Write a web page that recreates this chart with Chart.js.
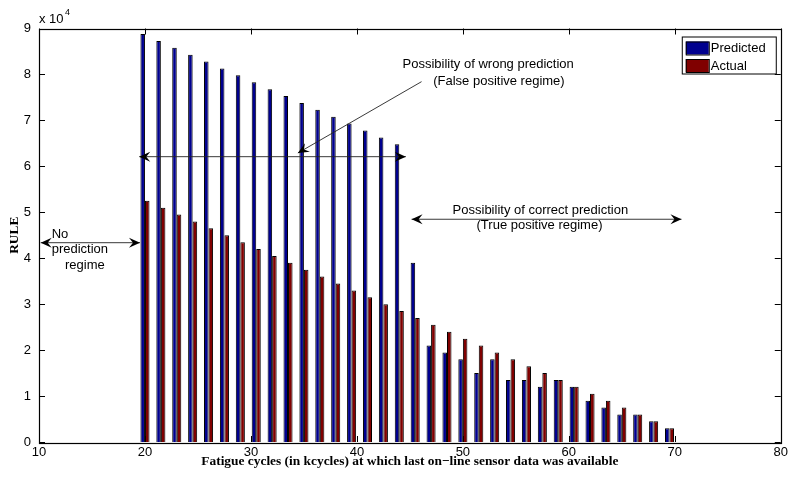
<!DOCTYPE html>
<html>
<head>
<meta charset="utf-8">
<script src="https://cdn.jsdelivr.net/npm/chart.js@4/dist/chart.umd.min.js"></script>
<style>
  html, body { margin: 0; padding: 0; background: #ffffff; }
  #wrap { width: 791px; height: 477px; }
</style>
</head>
<body>
<div id="wrap"><canvas id="c" width="791" height="477"></canvas></div>
<script>
// Fatigue cycles (kcycles) at which the last on-line sensor reading was taken
const cycles = [20, 21.5, 23, 24.5, 26, 27.5, 29, 30.5, 32, 33.5, 35, 36.5, 38, 39.5, 41, 42.5, 44,
                45.5, 47, 48.5, 50, 51.5, 53, 54.5, 56, 57.5, 59, 60.5, 62, 63.5, 65, 66.5, 68, 69.5];

// Predicted remaining useful life
const predicted = [88800, 87300, 85800, 84300, 82800, 81300, 79800, 78300, 76800, 75300, 73800, 72300,
                   70800, 69300, 67800, 66300, 64800, 39000, 21000, 19500, 18000, 15000, 18000, 13500,
                   13500, 12000, 13500, 12000, 9000, 7500, 6000, 6000, 4500, 3000];

// Actual remaining useful life
const actual = [52500, 51000, 49500, 48000, 46500, 45000, 43500, 42000, 40500, 39000, 37500, 36000,
                34500, 33000, 31500, 30000, 28500, 27000, 25500, 24000, 22500, 21000, 19500, 18000,
                16500, 15000, 13500, 12000, 10500, 9000, 7500, 6000, 4500, 3000];

const seriesNames = ['Predicted', 'Actual'];
const xTicks = [10, 20, 30, 40, 50, 60, 70, 80];
const yTicks = [0, 10000, 20000, 30000, 40000, 50000, 60000, 70000, 80000, 90000];

const SANS = '"Liberation Sans", Arial, Helvetica, sans-serif';
const SERIF = '"Liberation Serif", "Times New Roman", serif';
const TXT = 13;

function arrowHead(ctx, tx, ty, ang) {
  const L = 11, W = 5, N = 7;
  ctx.save();
  ctx.translate(tx, ty);
  ctx.rotate(ang);
  ctx.beginPath();
  ctx.moveTo(0, 0);
  ctx.lineTo(-L, -W);
  ctx.lineTo(-N, 0);
  ctx.lineTo(-L, W);
  ctx.closePath();
  ctx.fill();
  ctx.restore();
}

function arrow(ctx, x1, y1, x2, y2, both) {
  ctx.beginPath();
  ctx.moveTo(x1, y1);
  ctx.lineTo(x2, y2);
  ctx.stroke();
  const ang = Math.atan2(y2 - y1, x2 - x1);
  arrowHead(ctx, x2, y2, ang);
  if (both) arrowHead(ctx, x1, y1, ang + Math.PI);
}

// Regime annotations, in data units
const arrows = [
  { x1: 19.46, y1: 62100, x2: 44.62, y2: 62100, both: true },
  { x1: 45.16, y1: 48480, x2: 70.63, y2: 48480, both: true },
  { x1: 10.16, y1: 43380, x2: 19.53, y2: 43380, both: true },
  { x1: 46.1,  y1: 78430, x2: 34.43, y2: 62900, both: false }
];
const notes = [
  { x: 44.31, y: 82220, text: 'Possibility of wrong prediction' },
  { x: 47.2,  y: 78430, text: '(False positive regime)' },
  { x: 49.03, y: 50500, text: 'Possibility of correct prediction' },
  { x: 51.29, y: 47240, text: '(True positive regime)' },
  { x: 11.2,  y: 45170, text: 'No' },
  { x: 11.2,  y: 41950, text: 'prediction' },
  { x: 12.45, y: 38530, text: 'regime' }
];

const axesDecor = {
  id: 'axesDecor',
  beforeDatasetsDraw(chart) {
    const { ctx, chartArea: a, scales: { x, y } } = chart;
    ctx.save();
    ctx.strokeStyle = '#000';
    ctx.lineWidth = 1;
    ctx.beginPath();
    xTicks.forEach(v => {
      const px = Math.round(x.getPixelForValue(v)) + 0.5;
      ctx.moveTo(px, a.bottom); ctx.lineTo(px, a.bottom - 6);
      ctx.moveTo(px, a.top); ctx.lineTo(px, a.top + 6);
    });
    yTicks.forEach(v => {
      const py = Math.round(y.getPixelForValue(v)) + 0.5;
      ctx.moveTo(a.left, py); ctx.lineTo(a.left + 6, py);
      ctx.moveTo(a.right, py); ctx.lineTo(a.right - 6, py);
    });
    ctx.stroke();
    ctx.restore();
  },
  afterDatasetsDraw(chart) {
    const { ctx, chartArea: a, scales: { x, y } } = chart;
    ctx.save();

    // axes box
    ctx.strokeStyle = '#000';
    ctx.lineWidth = 1.2;
    ctx.strokeRect(Math.round(a.left) + 0.5, Math.round(a.top) + 0.5,
                   Math.round(a.right - a.left), Math.round(a.bottom - a.top));

    // exponent label
    ctx.fillStyle = '#000';
    ctx.textBaseline = 'middle';
    ctx.textAlign = 'left';
    ctx.font = TXT + 'px ' + SANS;
    ctx.fillText('x 10', a.left, 19);
    const w = ctx.measureText('x 10').width;
    ctx.font = '9px ' + SANS;
    ctx.fillText('4', a.left + w + 1.5, 13);

    // arrows
    ctx.strokeStyle = '#222';
    ctx.fillStyle = '#000';
    ctx.lineWidth = 0.9;
    arrows.forEach(r => arrow(ctx,
      x.getPixelForValue(r.x1), y.getPixelForValue(r.y1),
      x.getPixelForValue(r.x2), y.getPixelForValue(r.y2), r.both));

    // annotation text
    ctx.fillStyle = '#000';
    ctx.font = TXT + 'px ' + SANS;
    ctx.textAlign = 'left';
    ctx.textBaseline = 'middle';
    notes.forEach(n => ctx.fillText(n.text, x.getPixelForValue(n.x), y.getPixelForValue(n.y)));

    // legend
    const lx = a.right - 99, ly = a.top + 8, lw = 94, lh = 37;
    ctx.fillStyle = '#fff';
    ctx.fillRect(lx, ly, lw, lh);
    ctx.strokeStyle = '#000';
    ctx.lineWidth = 1;
    ctx.strokeRect(lx + 0.5, ly + 0.5, lw, lh);
    chart.data.datasets.forEach((ds, i) => {
      const sy = ly + 5 + i * 17.5;
      ctx.fillStyle = ds.backgroundColor;
      ctx.fillRect(lx + 4, sy, 23, 13);
      ctx.strokeStyle = '#000';
      ctx.strokeRect(lx + 4.5, sy + 0.5, 23, 13);
      ctx.fillStyle = '#000';
      ctx.font = TXT + 'px ' + SANS;
      ctx.textBaseline = 'middle';
      ctx.fillText(ds.label, lx + 29, sy + 7);
    });

    ctx.restore();
  }
};

new Chart(document.getElementById('c'), {
  type: 'bar',
  data: {
    datasets: [
      {
        label: seriesNames[0],
        data: cycles.map((c, i) => ({ x: c, y: predicted[i] })),
        backgroundColor: '#00008F',
        borderColor: '#000000',
        borderWidth: 1,
        categoryPercentage: 0.57,
        barPercentage: 1.0
      },
      {
        label: seriesNames[1],
        data: cycles.map((c, i) => ({ x: c, y: actual[i] })),
        backgroundColor: '#800000',
        borderColor: '#000000',
        borderWidth: 1,
        categoryPercentage: 0.57,
        barPercentage: 1.0
      }
    ]
  },
  options: {
    responsive: false,
    devicePixelRatio: 1,
    animation: false,
    events: [],
    layout: { padding: { left: 0, right: 10, top: 28.5, bottom: 0 } },
    plugins: {
      legend: { display: false },
      tooltip: { enabled: false }
    },
    scales: {
      x: {
        type: 'linear',
        offset: false,
        min: 10,
        max: 80,
        afterBuildTicks: s => { s.ticks = xTicks.map(v => ({ value: v })); },
        afterFit: s => { s.height = 35; },
        grid: { display: false, drawTicks: false, offset: false },
        border: { display: false },
        ticks: {
          padding: 3,
          color: '#000',
          font: { family: SANS, size: TXT },
          maxRotation: 0,
          callback: v => String(v)
        },
        title: {
          display: true,
          text: 'Fatigue cycles (in kcycles) at which last on\u2212line sensor data was available',
          color: '#000',
          font: { family: SERIF, size: 13.4, weight: 'bold' },
          padding: { top: 0, bottom: 7 }
        }
      },
      y: {
        min: 0,
        max: 90000,
        afterBuildTicks: s => { s.ticks = yTicks.map(v => ({ value: v })); },
        afterFit: s => { s.width = 39; },
        grid: { display: false, drawTicks: false },
        border: { display: false },
        ticks: {
          padding: 8,
          color: '#000',
          font: { family: SANS, size: TXT },
          callback: v => String(v / 10000)
        },
        title: {
          display: true,
          text: 'RULE',
          color: '#000',
          font: { family: SERIF, size: 13.4, weight: 'bold' },
          padding: { top: 7, bottom: 0 }
        }
      }
    }
  },
  plugins: [axesDecor]
});
</script>
</body>
</html>
